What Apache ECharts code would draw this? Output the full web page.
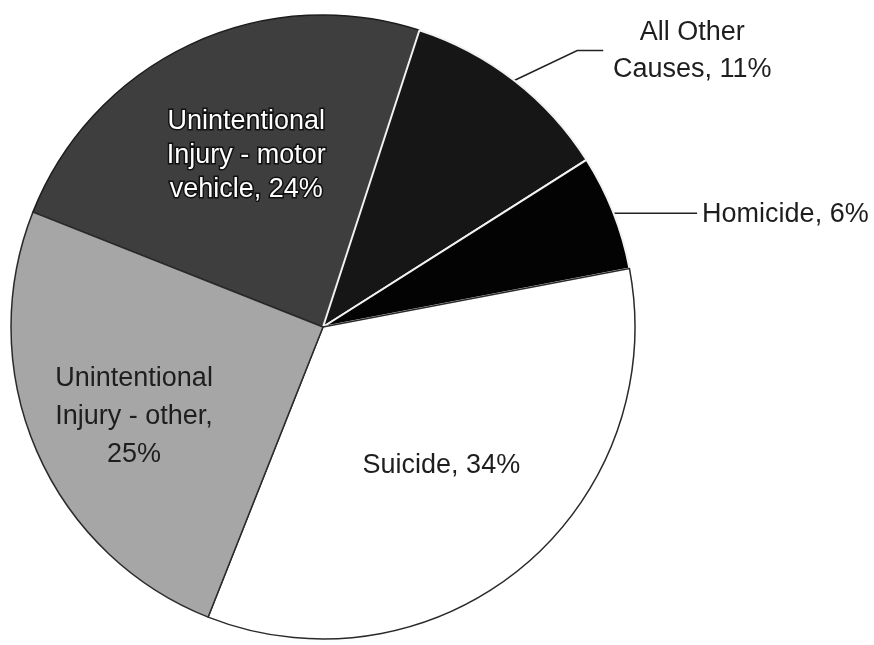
<!DOCTYPE html>
<html><head><meta charset="utf-8">
<script src="https://cdn.jsdelivr.net/npm/echarts@6/dist/echarts.min.js"></script>
<style>html,body{margin:0;padding:0;background:#fff}#c{width:874px;height:645px}</style>
</head><body><div id="c"></div>
<script>
// Data (drawing order starts with the motor-vehicle slice)
const categories = ['Unintentional Injury - motor vehicle', 'All Other Causes', 'Homicide', 'Suicide', 'Unintentional Injury - other'];
const values = [24, 11, 6, 34, 25];
const labelNames = ['Unintentional\nInjury - motor\nvehicle', 'All Other\nCauses', 'Homicide', 'Suicide', 'Unintentional\nInjury - other'];
const labelSeparators = [', ', ', ', ', ', ', ', ',\n'];

const FONT = '"Liberation Sans", Arial, Helvetica, sans-serif';
const sliceStyles = [
  { fill: '#3e3e3e', border: '#1c1c1c', bw: 1.5, label: { position: 'inside', color: '#ffffff', textBorderColor: '#111', textBorderWidth: 3, lineHeight: 34 } },
  { fill: '#161616', border: '#f2f2f2', bw: 2, label: { position: 'outside', color: '#1e1e1e', lineHeight: 37 } },
  { fill: '#030303', border: '#f2f2f2', bw: 2, label: { position: 'outside', color: '#1e1e1e' } },
  { fill: '#ffffff', border: '#2a2a2a', bw: 1.5, label: { position: 'inside', color: '#1e1e1e' } },
  { fill: '#a6a6a6', border: '#2a2a2a', bw: 1.5, label: { position: 'inside', color: '#1e1e1e', lineHeight: 38 } }
];

const chart = echarts.init(document.getElementById('c'), null, { renderer: 'canvas' });

const seriesData = categories.map((name, i) => ({
  name: name,
  value: values[i],
  itemStyle: { color: sliceStyles[i].fill, borderColor: sliceStyles[i].border, borderWidth: sliceStyles[i].bw },
  label: Object.assign({ show: true, fontFamily: FONT, fontSize: 27 }, sliceStyles[i].label),
  labelLine: { show: sliceStyles[i].label.position === 'outside', length: 20, length2: 40, lineStyle: { color: '#222', width: 1.5 } }
}));

chart.setOption({
  backgroundColor: '#ffffff',
  animation: false,
  series: [{
    type: 'pie',
    center: [323, 327],
    radius: 312,
    startAngle: 158.4,
    clockwise: true,
    avoidLabelOverlap: false,
    data: seriesData,
    label: {
      formatter: p => labelNames[p.dataIndex] + labelSeparators[p.dataIndex] + p.value + '%'
    },
    labelLayout: function (p) {
      const i = p.dataIndex;
      const r = p.labelRect;
      const cx = r.x + r.width / 2, cy = r.y + r.height / 2;
      if (i === 0) return { x: cx - 9, y: cy - 28, align: 'center', verticalAlign: 'middle' };
      if (i === 3) return { x: cx + 17, y: cy + 16, align: 'center', verticalAlign: 'middle' };
      if (i === 4) return { x: cx - 43, y: cy + 26, align: 'center', verticalAlign: 'middle' };
      const s = p.labelLinePoints && p.labelLinePoints[0];
      if (!s) return {};
      if (i === 1) return {
        x: s[0] + 178, y: s[1] - 29, align: 'center', verticalAlign: 'middle',
        labelLinePoints: [[s[0], s[1]], [s[0] + 63, s[1] - 30], [s[0] + 89, s[1] - 30]]
      };
      if (i === 2) return {
        x: s[0] + 89, y: s[1] + 2, align: 'left', verticalAlign: 'middle',
        labelLinePoints: [[s[0], s[1] + 1], [s[0] + 40, s[1] + 1], [s[0] + 84, s[1] + 1]]
      };
      return {};
    }
  }]
});
</script>
</body></html>
